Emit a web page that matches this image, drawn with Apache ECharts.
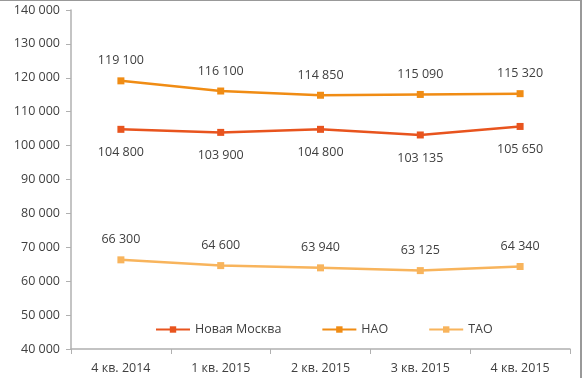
<!DOCTYPE html>
<html>
<head>
<meta charset="utf-8">
<script src="https://cdn.jsdelivr.net/npm/echarts@6/dist/echarts.min.js"></script>
<style>
  html, body { margin: 0; padding: 0; background: #fff; }
  #chart { width: 580px; height: 377px; border-top: 1px solid #999; border-right: 2px solid #999; }
</style>
</head>
<body>
<div id="chart"></div>
<script>
// данные
var quarters = ['4 кв. 2014', '1 кв. 2015', '2 кв. 2015', '3 кв. 2015', '4 кв. 2015'];
var novayaMoskva = [104800, 103900, 104800, 103135, 105650];
var nao = [119100, 116100, 114850, 115090, 115320];
var tao = [66300, 64600, 63940, 63125, 64340];

function fmt(v) {
  return String(v).replace(/\B(?=(\d{3})+(?!\d))/g, ' ');
}

var chart = echarts.init(document.getElementById('chart'));
var labelStyle = { color: '#404040', fontSize: 12.5, fontFamily: 'Open Sans, sans-serif' };

function line(name, data, color, pos, dist) {
  return {
    name: name,
    type: 'line',
    data: data,
    symbol: 'rect',
    symbolSize: 7,
    lineStyle: { color: color, width: 2.5 },
    itemStyle: { color: color },
    label: Object.assign({
      show: true,
      position: pos,
      distance: dist,
      formatter: function (p) { return fmt(p.value); }
    }, labelStyle)
  };
}

chart.setOption({
  animation: false,
  grid: { left: 71, right: 10, top: 9, bottom: 29, containLabel: false },
  legend: {
    bottom: 37,
    left: 150,
    itemGap: 40,
    itemWidth: 34,
    itemHeight: 8,
    textStyle: { color: '#404040', fontSize: 12.5, fontFamily: 'Open Sans, sans-serif' },
    data: ['Новая Москва', 'НАО', 'ТАО']
  },
  xAxis: {
    type: 'category',
    data: quarters,
    axisLine: { lineStyle: { color: '#b0b0b0', width: 1.5 } },
    axisTick: { show: true, length: 5, lineStyle: { color: '#b0b0b0' } },
    axisLabel: Object.assign({ margin: 13 }, labelStyle)
  },
  yAxis: {
    type: 'value',
    min: 40000,
    max: 140000,
    interval: 10000,
    axisLine: { show: true, lineStyle: { color: '#b0b0b0', width: 1.5 } },
    axisTick: { show: true, length: 5, lineStyle: { color: '#b0b0b0' } },
    splitLine: { show: false },
    axisLabel: Object.assign({ margin: 11, formatter: fmt }, labelStyle)
  },
  series: [
    line('Новая Москва', novayaMoskva, '#e8541e', 'bottom', 13),
    line('НАО', nao, '#f08c14', 'top', 10),
    line('ТАО', tao, '#f8b45c', 'top', 10)
  ]
});
</script>
</body>
</html>
